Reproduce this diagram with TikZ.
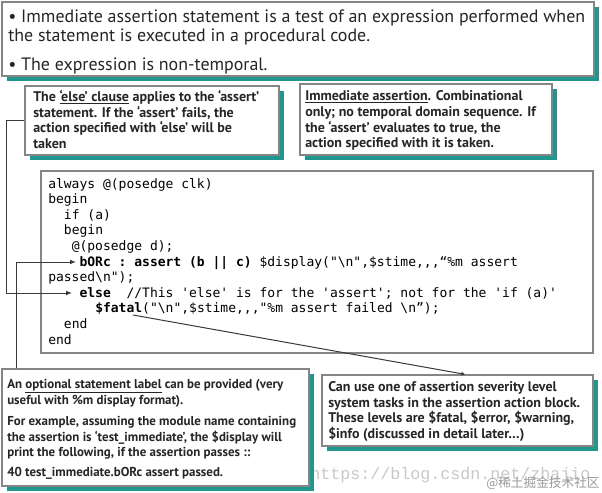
\documentclass[tikz,border=0pt]{standalone}
\usepackage{fontspec}
\setmainfont{PT Sans}
\setmonofont{DejaVu Sans Mono}[Ligatures=TeXOff]
\newfontfamily\wmfont{Liberation Mono}
\newfontfamily\cjkfont{Noto Sans CJK SC}
\usetikzlibrary{arrows.meta,calc,fit}
\definecolor{tealsh}{HTML}{21968F}
\definecolor{boxgray}{HTML}{858585}
\definecolor{linegray}{HTML}{3A3A3A}
\definecolor{txt}{HTML}{262626}
\definecolor{wmgray}{HTML}{C8C8C8}
\definecolor{wmdark}{HTML}{9A9A9A}
\newcommand\mkpanel[5]{%
  \fill[tealsh] (#2+5,#3+5) rectangle (#4+5,#5+5);
  \node[panel, fit={(#2,#3) (#4,#5)}] (#1) {};
}
\tikzset{
  panel/.style={draw=boxgray, line width=0.9pt, fill=white, inner sep=0pt},
  tl/.style={anchor=base west, inner sep=0pt, text=txt},
  toptext/.style={tl, font=\fontsize{13.45}{15}\selectfont},
  calltext/.style={tl, font=\bfseries\fontsize{10.5}{12}\selectfont},
  calltextb/.style={tl, font=\bfseries\fontsize{9.7}{11}\selectfont},
  code/.style={tl, text=black, font=\ttfamily\fontsize{9.75}{11}\selectfont},
  conn/.style={draw=linegray, line width=0.75pt},
  tip/.style={-{Latex[length=4.5pt,width=3.6pt]}}
}
\begin{document}
\begin{tikzpicture}[x=0.75pt,y=-0.75pt]
\useasboundingbox (0,0) rectangle (602,492);
\fill[white] (0,0) rectangle (602,492);

% watermark (behind everything)
\node[anchor=base west, inner sep=0pt, text=wmgray, font=\wmfont\fontsize{12.5}{14}\selectfont] (wm) at (310,479) {https://blog.csdn.net/zhajio};
\node[anchor=base west, inner sep=0pt, text=wmdark, font=\cjkfont\fontsize{9.5}{11}\selectfont] (wm2) at (486,487) {@稀土掘金技术社区};

% panels
\mkpanel{topbox}{2}{2}{594}{76}
\mkpanel{elsebox}{25}{86}{279}{155}
\mkpanel{immbox}{300}{84}{552}{155}
\node[panel, fit={(41,171) (593,353)}] (codebox) {};
\mkpanel{blbox}{2}{369}{309}{486}
\mkpanel{brbox}{322}{375}{593}{446}

% top text
\node[toptext] (t1) at (8,23) {• Immediate assertion statement is a test of an expression performed when};
\node[toptext] (t2) at (8,42) {the statement is executed in a procedural code.};
\node[toptext] (t3) at (8,70) {• The expression is non-temporal.};

% else callout
\node[calltext] (e1) at (33,101) {The \underline{‘else’ clause} applies to the ‘assert’};
\node[calltext] (e2) at (33,117) {statement. If the ‘assert’ fails, the};
\node[calltext] (e3) at (33,132.5) {action specified with ‘else’ will be};
\node[calltext] (e4) at (33,148) {taken};

% immediate callout
\node[calltext] (i1) at (305,100) {\underline{Immediate assertion}. Combinational};
\node[calltext] (i2) at (305,116) {only; no temporal domain sequence. If};
\node[calltext] (i3) at (305,132) {the ‘assert’ evaluates to true, the};
\node[calltext] (i4) at (305,147) {action specified with it is taken.};

% code
\node[code] (c1) at (48,188) {always @(posedge clk)};
\node[code] (c2) at (48,203.6) {begin};
\node[code] (c3) at (63.7,219.2) {if (a)};
\node[code] (c4) at (63.7,234.8) {begin};
\node[code] (c5) at (71.5,250.4) {@(posedge d);};
\node[code] (c6) at (79.3,266) {\textbf{bORc : assert (b || c)} \$display("\textbackslash n",\$stime,,,“\%m assert};
\node[code] (c7) at (48,281.6) {passed\textbackslash n");};
\node[code] (c8) at (79.3,297.2) {\textbf{else}\ \ //This 'else' is for the 'assert'; not for the 'if (a)'};
\node[code] (c9) at (95,312.8) {\textbf{\$fatal}("\textbackslash n",\$stime,,,"\%m assert failed \textbackslash n”);};
\node[code] (c10) at (63.7,328.4) {end};
\node[code] (c11) at (48,344) {end};

% bottom-left callout
\node[calltextb] (b1) at (7,388) {An \underline{optional statement label} can be provided (very};
\node[calltextb] (b2) at (7,404) {useful with \%m display format).};
\node[calltextb] (b3) at (7,425) {For example, assuming the module name containing};
\node[calltextb] (b4) at (7,441) {the assertion is ‘test\_immediate’, the \$display will};
\node[calltextb] (b5) at (7,456) {print the following, if the assertion passes ::};
\node[calltextb] (b6) at (7,476) {40 test\_immediate.bORc assert passed.};

% bottom-right callout
\node[calltext] (r1) at (328,391) {Can use one of assertion severity level};
\node[calltext] (r2) at (328,407) {system tasks in the assertion action block.};
\node[calltext] (r3) at (328,422) {These levels are \$fatal, \$error, \$warning,};
\node[calltext] (r4) at (328,438) {\$info (discussed in detail later…)};

% connector endpoints
\coordinate (tipE) at (72,293);
\coordinate (tipB) at (76,262);
\coordinate (blstart) at ($(blbox.north west)+(15,0)$);
\coordinate (fatalpt) at (133,315);
\coordinate (brtop) at ($(brbox.north west)+(144,0)$);

% connectors
\draw[conn, tip] (elsebox.west) -- ++(-18,0) |- (tipE);
\draw[conn, tip] (blstart) |- (tipB);
\draw[conn, -{Latex[length=3pt,width=3pt]}] (fatalpt) -- (brtop);
\end{tikzpicture}
\end{document}
